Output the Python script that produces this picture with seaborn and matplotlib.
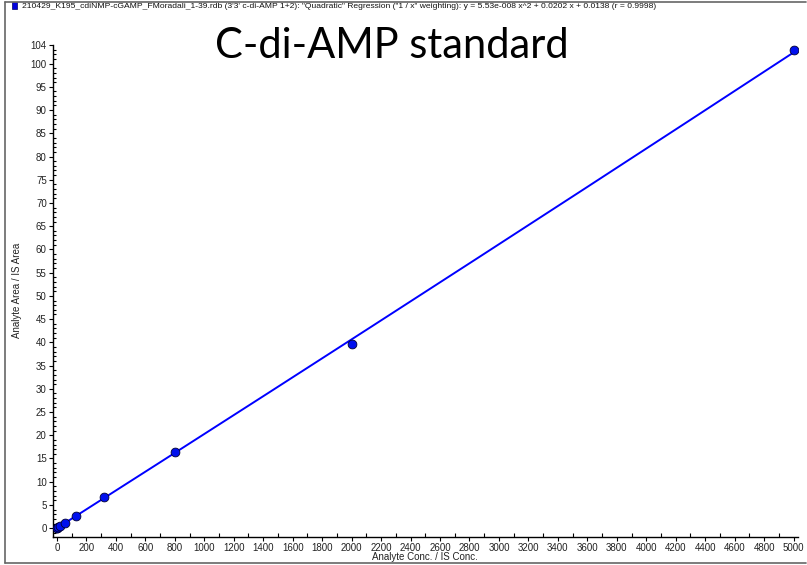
import numpy as np
import pandas as pd
import seaborn as sns
import matplotlib
matplotlib.use("Agg")
import matplotlib.pyplot as plt
from matplotlib.ticker import MultipleLocator, FixedLocator
from matplotlib.patches import Rectangle
from matplotlib.lines import Line2D

# Calibration standards (analyte conc. / IS conc.) and measured area ratios
conc = [0, 3.3, 8.2, 20.5, 51.2, 128, 320, 800, 2000, 5000]
area_ratio = [0.02, 0.08, 0.19, 0.45, 1.1, 2.65, 6.8, 16.4, 39.6, 102.9]

# Quadratic regression (1/x weighting)
coef_a = 5.53e-8
coef_b = 0.0202
coef_c = 0.0138

x_ticks = list(range(0, 5001, 200))
y_ticks = list(range(0, 101, 5)) + [104]

header = ('210429_K195_cdiNMP-cGAMP_FMoradali_1-39.rdb (3\'3\' c-di-AMP 1+2): '
          '"Quadratic" Regression ("1 / x" weighting): y = 5.53e-008 x^2 + 0.0202 x + 0.0138 (r = 0.9998)')

sns.set_theme(style="white")
plt.rcParams['font.family'] = ['Liberation Sans Narrow', 'Liberation Sans', 'DejaVu Sans']

fig = plt.figure(figsize=(8.07, 5.65), dpi=100)
W, H = 807, 565
ax = fig.add_axes([53 / W, (H - 537) / H, (798 - 53) / W, (537 - 45) / H])

fit_x = np.linspace(0, conc[-1], 400)
fit = pd.DataFrame({"x": fit_x, "y": coef_a * fit_x ** 2 + coef_b * fit_x + coef_c})
sns.lineplot(data=fit, x="x", y="y", ax=ax, color="#0000ff", linewidth=1.4)

pts = pd.DataFrame({"conc": conc, "ratio": area_ratio})
sns.scatterplot(data=pts, x="conc", y="ratio", ax=ax, color="#0010ee",
                edgecolor="#000033", linewidth=0.6, s=40, zorder=5)

ax.set_xlim(-27, 5030)
ax.set_ylim(-1.9, 104)
ax.xaxis.set_major_locator(FixedLocator(x_ticks))
ax.xaxis.set_minor_locator(MultipleLocator(100))
ax.yaxis.set_major_locator(FixedLocator(y_ticks))
ax.yaxis.set_minor_locator(MultipleLocator(1))
ax.set_xticklabels([str(v) for v in x_ticks])
ax.set_yticklabels([str(v) for v in y_ticks])

for s in ["top", "right"]:
    ax.spines[s].set_visible(False)
for s in ["left", "bottom"]:
    ax.spines[s].set_color("black")
    ax.spines[s].set_linewidth(1.0)

ax.tick_params(axis="both", which="major", direction="out", length=3, width=0.8,
               color="black", labelsize=7, labelcolor="#222222", pad=1.5,
               bottom=True, left=True)
ax.tick_params(axis="x", which="minor", direction="in", length=3, width=0.8,
               color="black", bottom=True)
ax.tick_params(axis="y", which="minor", direction="in", length=2.5, width=0.8,
               color="black", left=True)

ax.set_xlabel("")
ax.set_ylabel("")
fig.text(425 / W, 1 - 557 / H, "Analyte Conc. / IS Conc.",
         fontsize=7, color="#222222", ha="center", va="center")
fig.text(17 / W, 1 - 290 / H, "Analyte Area / IS Area", rotation=90,
         fontsize=7, color="#222222", ha="center", va="center")

# Big caption
fig.text(392 / W, 1 - 46 / H, "C-di-AMP standard", fontsize=30,
         family=['Lato', 'DejaVu Sans'], color="black", ha="center", va="center")

# Header with series swatch
fig.patches.append(Rectangle((12 / W, 1 - 8.5 / H), 5 / W, 6.5 / H,
                             transform=fig.transFigure, facecolor="#0000dd",
                             edgecolor="#000066", linewidth=0.5))
fig.text(22 / W, 1 - 6.5 / H, header, fontsize=6.1, color="#111111",
         ha="left", va="center")

# Panel frame
frame_kw = dict(transform=fig.transFigure, color="#666666", linewidth=1.2)
fig.lines.append(Line2D([5 / W, 806 / W], [1 - 1.5 / H, 1 - 1.5 / H], **frame_kw))
fig.lines.append(Line2D([5 / W, 5 / W], [1 - 1.5 / H, 1 - 562.5 / H], **frame_kw))
fig.lines.append(Line2D([5 / W, 806 / W], [1 - 562.5 / H, 1 - 562.5 / H], **frame_kw))

fig.savefig("out.png", dpi=100)
